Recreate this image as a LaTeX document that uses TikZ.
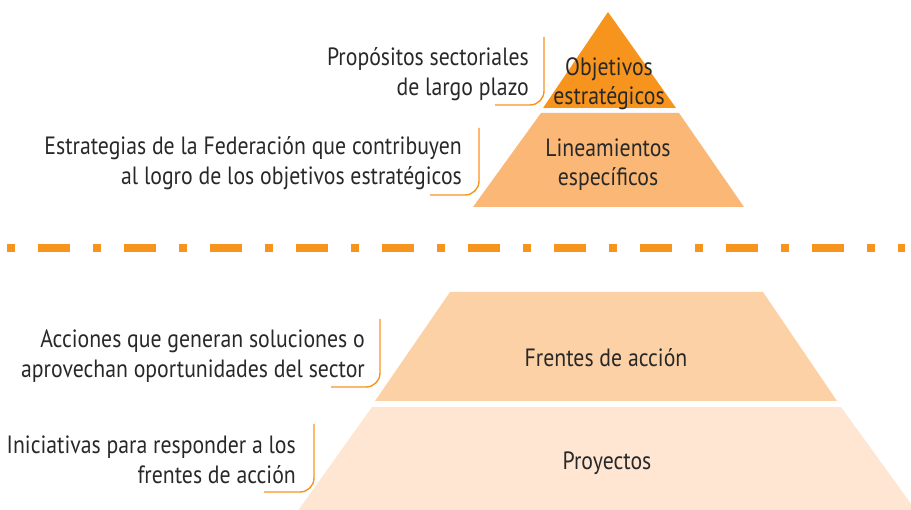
\documentclass[tikz,border=0pt]{standalone}
\usepackage{fontspec}
\setmainfont{PT Sans}[FakeStretch=0.87]
\usepackage{tikz}

\definecolor{naranja}{RGB}{247,148,30}
\definecolor{nivelA}{RGB}{247,148,30}
\definecolor{nivelB}{RGB}{250,183,118}
\definecolor{nivelC}{RGB}{253,209,166}
\definecolor{nivelD}{RGB}{254,230,211}
\definecolor{texto}{RGB}{40,40,40}

\begin{document}
\begin{tikzpicture}[x=1pt, y=-1pt,
        desc/.style={anchor=east, align=right, text=texto, inner sep=0pt,
            font=\fontsize{25}{30}\selectfont},
        nivel/.style={align=center, text=texto, inner sep=0pt,
            font=\fontsize{25}{29}\selectfont},
        llave/.style={naranja, line width=1.4pt, rounded corners=14pt}]
            \useasboundingbox (0, 0) rectangle (911, 510);
            \clip (0, 0) rectangle (911, 510);

            % piramide superior
            \fill[nivelA] (608, 12) -- (676, 108) -- (543, 108) -- cycle;
            \fill[nivelB] (541, 113) -- (679, 113) -- (744, 207) -- (473, 207) -- cycle;

            % linea divisoria
            \draw[naranja, line width=8pt, dash pattern=on 8pt off 23pt on 32pt off 23pt] (7, 248) -- (905, 248);

            % piramide inferior
            \fill[nivelC] (450, 292) -- (763, 292) -- (837, 401) -- (375, 401) -- cycle;
            \fill[nivelD] (372, 407) -- (841, 407) -- (917, 512) -- (297, 512) -- cycle;

            \node[nivel] (obj) at (609, 84) {Objetivos\\estratégicos};
            \node[nivel] (lin) at (608, 165) {Lineamientos\\específicos};
            \node[nivel] (fre) at (606, 358) {Frentes de acción};
            \node[nivel] (pro) at (607, 463) {Proyectos};

            \node[desc] (d1) at (529, 74) {Propósitos sectoriales\\de largo plazo};
            \node[desc] (d2) at (462, 163) {Estrategias de la Federación que contribuyen\\al logro de los objetivos estratégicos};
            \node[desc] (d3) at (365, 356) {Acciones que generan soluciones o\\aprovechan oportunidades del sector};
            \node[desc] (d4) at (296, 460) {Iniciativas para responder a los\\frentes de acción};

            \draw[llave] (544, 37) |- (495, 105);
            \draw[llave] (479, 128) |- (430, 195);
            \draw[llave] (380, 319) |- (331, 387);
            \draw[llave] (314, 424) |- (264, 492);

        \end{tikzpicture}
\end{document}
